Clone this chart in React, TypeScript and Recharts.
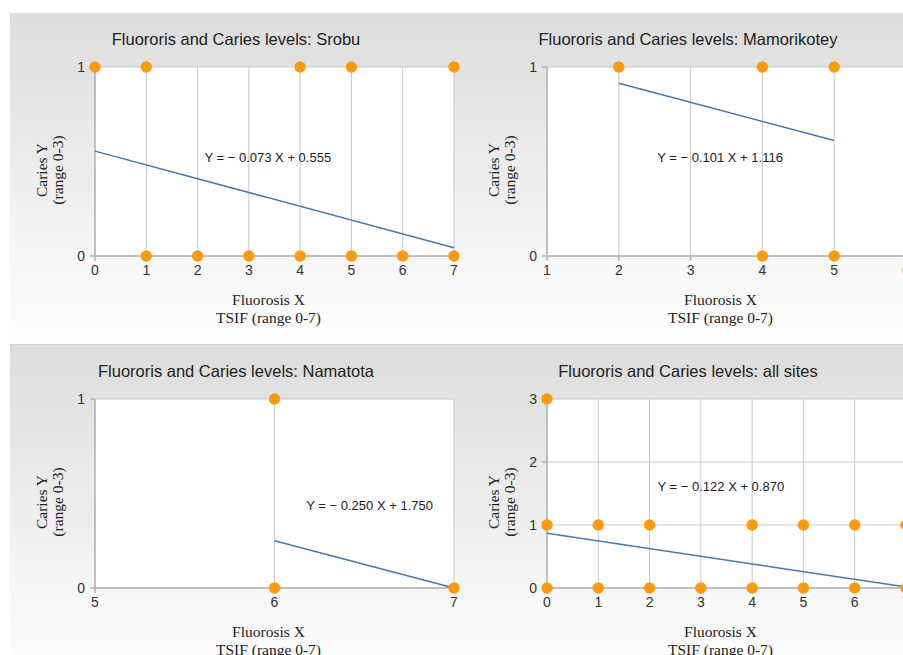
import React from "react";
import {
  CartesianGrid,
  Label,
  ReferenceDot,
  Scatter,
  ScatterChart,
  XAxis,
  YAxis,
} from "recharts";

type Pt = { x: number; y: number };

const srobuPoints: Pt[] = [
  { x: 0, y: 1 }, { x: 1, y: 1 }, { x: 4, y: 1 }, { x: 5, y: 1 }, { x: 7, y: 1 },
  { x: 1, y: 0 }, { x: 2, y: 0 }, { x: 3, y: 0 }, { x: 4, y: 0 }, { x: 5, y: 0 },
  { x: 6, y: 0 }, { x: 7, y: 0 },
];
const srobuFit: Pt[] = [{ x: 0, y: 0.555 }, { x: 7, y: 0.044 }];

const mamorikoteyPoints: Pt[] = [
  { x: 2, y: 1 }, { x: 4, y: 1 }, { x: 5, y: 1 },
  { x: 4, y: 0 }, { x: 5, y: 0 },
];
const mamorikoteyFit: Pt[] = [{ x: 2, y: 0.914 }, { x: 5, y: 0.611 }];

const namatotaPoints: Pt[] = [{ x: 6, y: 1 }, { x: 6, y: 0 }, { x: 7, y: 0 }];
const namatotaFit: Pt[] = [{ x: 6, y: 0.25 }, { x: 7, y: 0 }];

const allPoints: Pt[] = [
  { x: 0, y: 3 },
  { x: 0, y: 1 }, { x: 1, y: 1 }, { x: 2, y: 1 }, { x: 4, y: 1 }, { x: 5, y: 1 },
  { x: 6, y: 1 }, { x: 7, y: 1 },
  { x: 0, y: 0 }, { x: 1, y: 0 }, { x: 2, y: 0 }, { x: 3, y: 0 }, { x: 4, y: 0 },
  { x: 5, y: 0 }, { x: 6, y: 0 }, { x: 7, y: 0 },
];
const allFit: Pt[] = [{ x: 0, y: 0.87 }, { x: 7, y: 0.016 }];

const ticks0to7 = [0, 1, 2, 3, 4, 5, 6, 7];
const ticks1to6 = [1, 2, 3, 4, 5, 6];
const ticks5to7 = [5, 6, 7];
const ticksY1 = [0, 1];
const ticksY3 = [0, 1, 2, 3];

const panels = [
  {
    site: "Srobu", points: srobuPoints, fit: srobuFit, xTicks: ticks0to7, yTicks: ticksY1,
    eq: "Y = \u2212 0.073 X + 0.555", eqAt: { x: 3.37, y: 0.524 },
  },
  {
    site: "Mamorikotey", points: mamorikoteyPoints, fit: mamorikoteyFit, xTicks: ticks1to6, yTicks: ticksY1,
    eq: "Y = \u2212 0.101 X + 1.116", eqAt: { x: 3.41, y: 0.524 },
  },
  {
    site: "Namatota", points: namatotaPoints, fit: namatotaFit, xTicks: ticks5to7, yTicks: ticksY1,
    eq: "Y = \u2212 0.250 X + 1.750", eqAt: { x: 6.53, y: 0.436 },
  },
  {
    site: "all sites", points: allPoints, fit: allFit, xTicks: ticks0to7, yTicks: ticksY3,
    eq: "Y = \u2212 0.122 X + 0.870", eqAt: { x: 3.39, y: 1.61 },
  },
];

const W = 452;
const H = 331;
const sans = "'Liberation Sans', Arial, sans-serif";
const serif = "'Liberation Serif', 'Times New Roman', serif";
const orange = "#ff9a0c";
const blue = "#4a76a8";
const gridColor = "#c8c8c8";

function XTitle(props: any) {
  const { viewBox } = props;
  const cx = viewBox.x + viewBox.width / 2 - 6;
  return (
    <text textAnchor="middle" fontFamily={serif} fontSize={15.5} fill="#222">
      <tspan x={cx} y={viewBox.y + 43} dominantBaseline="central">Fluorosis X</tspan>
      <tspan x={cx} y={viewBox.y + 61} dominantBaseline="central">TSIF (range 0-7)</tspan>
    </text>
  );
}

function YTitle() {
  const cx = 39;
  const cy = 157;
  return (
    <text
      transform={`rotate(-90 ${cx} ${cy})`}
      textAnchor="middle"
      fontFamily={serif}
      fontSize={15.5}
      fill="#222"
    >
      <tspan x={cx} y={cy - 8} dominantBaseline="central">Caries Y</tspan>
      <tspan x={cx} y={cy + 8} dominantBaseline="central">(range 0-3)</tspan>
    </text>
  );
}

function Panel({ p }: { p: (typeof panels)[number] }) {
  const xMin = p.xTicks[0];
  const xMax = p.xTicks[p.xTicks.length - 1];
  const yMax = p.yTicks[p.yTicks.length - 1];
  const tick = { fontSize: 14, fill: "#333", fontFamily: sans };
  return (
    <div style={{ position: "relative", width: W, height: H, flex: "0 0 auto" }}>
      <div
        style={{
          position: "absolute",
          top: 16,
          left: 0,
          width: W,
          textAlign: "center",
          fontFamily: sans,
          fontSize: 16.5,
          lineHeight: "20px",
          color: "#222",
        }}
      >
        Fluororis and Caries levels: {p.site}
      </div>
      <ScatterChart width={W} height={H} margin={{ top: 54, right: 8, bottom: 0, left: 0 }}>
        <CartesianGrid stroke={gridColor} fill="#fff" />
        <XAxis
          type="number"
          dataKey="x"
          domain={[xMin, xMax]}
          ticks={p.xTicks}
          interval={0}
          height={88}
          tick={tick}
          tickSize={5}
          tickMargin={4}
          stroke="#b4b4b4"
          strokeWidth={1.5}
        >
          <Label content={XTitle} />
        </XAxis>
        <YAxis
          type="number"
          dataKey="y"
          domain={[0, yMax]}
          ticks={p.yTicks}
          interval={0}
          width={85}
          tick={tick}
          tickSize={5}
          tickMargin={5}
          stroke="#b4b4b4"
          strokeWidth={1.5}
        >
          <Label content={YTitle} />
        </YAxis>
        <Scatter
          data={p.fit}
          line={{ stroke: blue, strokeWidth: 1.5 }}
          shape={() => <g />}
          isAnimationActive={false}
        />
        <Scatter
          data={p.points}
          shape={(s: any) => <circle cx={s.cx} cy={s.cy} r={5.7} fill={orange} />}
          isAnimationActive={false}
        />
        <ReferenceDot
          x={p.eqAt.x}
          y={p.eqAt.y}
          r={0}
          fill="none"
          stroke="none"
          label={{ value: p.eq, position: "center", fontSize: 13, fill: "#222", fontFamily: sans }}
        />
      </ScatterChart>
    </div>
  );
}

const rowStyle: React.CSSProperties = {
  display: "flex",
  width: W * 2,
  height: H,
  background: "linear-gradient(#dcdcdc, #ffffff)",
  borderBottom: "1px solid #d2d2d2",
};

export default function App() {
  return (
    <div
      style={{
        position: "fixed",
        left: 10,
        top: 13,
        width: 893,
        height: 642,
        overflow: "hidden",
        fontFamily: sans,
      }}
    >
      <div style={rowStyle}>
        <Panel p={panels[0]} />
        <Panel p={panels[1]} />
      </div>
      <div style={rowStyle}>
        <Panel p={panels[2]} />
        <Panel p={panels[3]} />
      </div>
    </div>
  );
}
